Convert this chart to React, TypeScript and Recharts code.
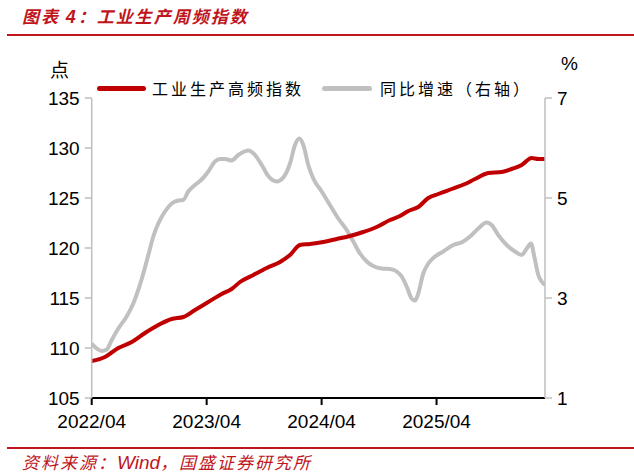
import { LineChart, Line, XAxis, YAxis } from 'recharts';

// months since 2022/04
const TICK_MONTHS = [0, 12, 24, 36];
const TICK_LABELS = ['2022/04', '2023/04', '2024/04', '2025/04'];
const LEFT_TICKS = [105, 110, 115, 120, 125, 130, 135];
const RIGHT_TICKS = [1, 3, 5, 7];

// 工业生产高频指数 (left axis)
const indexMonths = [0, 1.39, 2.78, 4.18, 5.56, 6.95, 8.35, 9.56, 10.78, 12.17, 13.57, 14.61, 15.48, 16.87, 18.27, 19.66, 20.7, 21.75, 22.79, 24.18, 25.57, 26.96, 28.35, 29.75, 31.14, 32.18, 33.05, 34.09, 35.14, 36.18, 37.58, 38.97, 40.01, 41.4, 42.8, 43.84, 44.89, 45.93, 46.62, 47.32];
const indexValues = [108.7, 109.1, 110.0, 110.6, 111.5, 112.3, 112.9, 113.1, 113.8, 114.6, 115.4, 115.9, 116.6, 117.3, 118.0, 118.6, 119.3, 120.3, 120.4, 120.6, 120.9, 121.2, 121.6, 122.1, 122.8, 123.2, 123.7, 124.1, 125.0, 125.4, 125.9, 126.4, 126.9, 127.5, 127.6, 127.9, 128.3, 129.0, 128.9, 128.9];

// 同比增速 (right axis, %)
const yoyMonths = [0, 0.52, 1.04, 1.57, 2.09, 2.78, 3.65, 4.34, 4.86, 5.39, 5.91, 6.43, 6.95, 7.65, 8.35, 9.04, 9.56, 10.08, 10.78, 11.48, 12.17, 12.87, 13.39, 13.91, 14.61, 15.3, 15.82, 16.35, 17.05, 17.75, 18.43, 19.31, 20.0, 20.7, 21.22, 21.67, 22.09, 22.61, 23.13, 24.01, 24.87, 25.74, 26.62, 27.31, 28.01, 28.71, 29.39, 30.27, 31.14, 31.84, 32.36, 32.88, 33.4, 33.75, 34.09, 34.61, 35.14, 35.84, 36.7, 37.75, 38.79, 39.49, 40.35, 41.23, 41.75, 42.44, 43.32, 44.19, 44.89, 45.41, 45.86, 46.2, 46.62, 46.97, 47.32];
const yoyValues = [2.09, 1.99, 1.94, 1.97, 2.16, 2.39, 2.63, 2.89, 3.16, 3.49, 3.86, 4.23, 4.49, 4.73, 4.89, 4.95, 4.96, 5.13, 5.26, 5.37, 5.53, 5.73, 5.78, 5.78, 5.75, 5.86, 5.92, 5.95, 5.86, 5.66, 5.44, 5.33, 5.41, 5.69, 6.06, 6.19, 6.06, 5.66, 5.39, 5.13, 4.86, 4.59, 4.36, 4.13, 3.89, 3.73, 3.64, 3.59, 3.58, 3.53, 3.43, 3.23, 2.99, 2.95, 3.09, 3.49, 3.69, 3.83, 3.93, 4.06, 4.13, 4.23, 4.39, 4.51, 4.46, 4.26, 4.06, 3.93, 3.86, 3.99, 4.09, 3.83, 3.46, 3.33, 3.26];

const RED = '#c00000';
const GREY = '#c0c0c0';
const ACCENT = '#c0151c';
const CJK = '"Noto Sans CJK SC", sans-serif';
const LATIN = '"Liberation Sans", Arial, sans-serif';

const indexData = indexMonths.map((t, i) => ({ t, v: indexValues[i] }));
const yoyData = yoyMonths.map((t, i) => ({ t, v: yoyValues[i] }));

const tickStyle = { fill: '#000', fontSize: 19, fontFamily: LATIN };

export default function App() {
    const legendText = { position: 'absolute' as const, top: 78, fontFamily: CJK, fontSize: 16, letterSpacing: 3, lineHeight: '20px', color: '#000' };
    return (
        <div style={{ position: 'absolute', left: 0, top: 0, width: 634, height: 474, background: '#fff', overflow: 'hidden' }}>
            <div style={{ position: 'absolute', left: 22, top: 5, fontFamily: CJK, fontSize: 17, fontWeight: 700, fontStyle: 'italic', letterSpacing: 2, color: ACCENT, lineHeight: '22px', whiteSpace: 'nowrap' }}>
                图表 <span style={{ fontFamily: LATIN, fontSize: 18 }}>4</span>：工业生产周频指数
            </div>
            <div style={{ position: 'absolute', left: 7, top: 34, width: 627, height: 2, background: ACCENT }} />

            <LineChart width={634} height={474} data={indexData} margin={{ top: 98, right: 0, bottom: 36, left: 0 }}>
                <XAxis
                    dataKey="t"
                    type="number"
                    domain={[0, 47.32]}
                    ticks={TICK_MONTHS}
                    tickFormatter={(t: number) => TICK_LABELS[TICK_MONTHS.indexOf(t)]}
                    height={40}
                    stroke="#000"
                    strokeWidth={2}
                    tickSize={7}
                    tickMargin={10}
                    tick={tickStyle}
                    allowDataOverflow
                />
                <YAxis
                    yAxisId="left"
                    orientation="left"
                    domain={[105, 135]}
                    ticks={LEFT_TICKS}
                    width={91.7}
                    stroke="#bfbfbf"
                    strokeWidth={1.5}
                    tickSize={7}
                    tickMargin={5}
                    tick={tickStyle}
                    interval={0}
                />
                <YAxis
                    yAxisId="right"
                    orientation="right"
                    domain={[1, 7]}
                    ticks={RIGHT_TICKS}
                    width={89}
                    stroke="#bfbfbf"
                    strokeWidth={1.5}
                    tickSize={7}
                    tickMargin={5}
                    tick={tickStyle}
                    interval={0}
                />
                <Line yAxisId="right" data={yoyData} dataKey="v" type="monotone" stroke={GREY} strokeWidth={4} dot={false} isAnimationActive={false} />
                <Line yAxisId="left" data={indexData} dataKey="v" type="monotone" stroke={RED} strokeWidth={4} dot={false} isAnimationActive={false} />
            </LineChart>

            <div style={{ position: 'absolute', left: 50, top: 58, fontFamily: CJK, fontSize: 19, lineHeight: '22px', color: '#000' }}>点</div>
            <div style={{ position: 'absolute', left: 561, top: 53, fontFamily: LATIN, fontSize: 19, lineHeight: '22px', color: '#000' }}>%</div>

            <div style={{ position: 'absolute', left: 97, top: 86, width: 49, height: 5, borderRadius: 3, background: RED }} />
            <div style={{ ...legendText, left: 152 }}>工业生产高频指数</div>
            <div style={{ position: 'absolute', left: 322, top: 86, width: 50, height: 5, borderRadius: 3, background: GREY }} />
            <div style={{ ...legendText, left: 380 }}>同比增速（右轴）</div>

            <div style={{ position: 'absolute', left: 7, top: 447, width: 627, height: 2, background: ACCENT }} />
            <div style={{ position: 'absolute', left: 22, top: 452, fontFamily: CJK, fontSize: 17, fontStyle: 'italic', letterSpacing: 2, color: ACCENT, lineHeight: '20px', whiteSpace: 'nowrap' }}>
                资料来源：<span style={{ fontFamily: LATIN, fontSize: 19, letterSpacing: 0 }}>Wind</span>，国盛证券研究所
            </div>
        </div>
    );
}
